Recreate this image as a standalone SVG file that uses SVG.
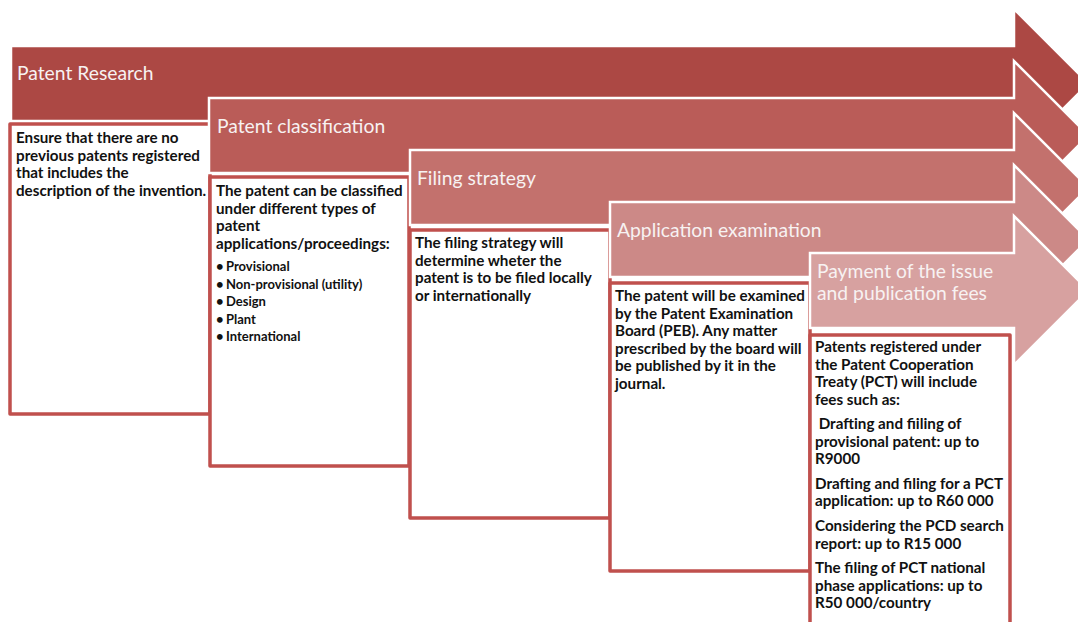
<svg xmlns="http://www.w3.org/2000/svg" width="1078" height="622" viewBox="0 0 1078 622">
  <style>
    .arrow { stroke: #ffffff; stroke-width: 2.5; stroke-linejoin: miter; }
    .box { fill: #ffffff; stroke: #C0504D; stroke-width: 3.5; stroke-linejoin: round; }
    .head { font-family: Lato, "Open Sans", sans-serif; font-size: 19.3px; fill: #F7F2F2; }
    .body { font-family: Lato, "Open Sans", sans-serif; font-size: 15.2px; font-weight: bold; fill: #111111; }
    .bul { font-family: Lato, "Open Sans", sans-serif; font-size: 13px; font-weight: bold; fill: #111111; }
  </style>
  <rect width="1078" height="622" fill="#ffffff"/>

  <!-- Step 1: research -->
  <g id="step-research">
    <path class="arrow" fill="#AC4844" d="M11 46 H1014 V9 L1088.5 83.5 L1014 158 V121 H11 Z"/>
    <text class="head" x="17" y="80">Patent Research</text>
    <rect class="box" x="10" y="124" width="200" height="290"/>
    <text class="body" x="16" y="143">Ensure that there are no</text>
    <text class="body" x="16" y="160.5">previous patents registered</text>
    <text class="body" x="16" y="178">that includes the</text>
    <text class="body" x="16" y="195.5">description of the invention.</text>
  </g>

  <!-- Step 2: classification -->
  <g id="step-classification">
    <path class="arrow" fill="#BA5C58" d="M209 98 H1014 V61 L1088.5 135.5 L1014 210 V173 H209 Z"/>
    <text class="head" x="217" y="133">Patent classification</text>
    <rect class="box" x="210" y="177" width="199" height="289"/>
    <text class="body" x="216" y="196">The patent can  be classified</text>
    <text class="body" x="216" y="213.5">under different types of</text>
    <text class="body" x="216" y="231">patent</text>
    <text class="body" x="216" y="248.5">applications/proceedings:</text>
    <text class="bul" x="216" y="271">•</text><text class="bul" x="226" y="271">Provisional</text>
    <text class="bul" x="216" y="288.5">•</text><text class="bul" x="226" y="288.5">Non-provisional (utility)</text>
    <text class="bul" x="216" y="306">•</text><text class="bul" x="226" y="306">Design</text>
    <text class="bul" x="216" y="323.5">•</text><text class="bul" x="226" y="323.5">Plant</text>
    <text class="bul" x="216" y="341">•</text><text class="bul" x="226" y="341">International</text>
  </g>

  <!-- Step 3: filing strategy -->
  <g id="step-filing">
    <path class="arrow" fill="#C3716D" d="M410 150 H1014 V113 L1088.5 187.5 L1014 262 V225 H410 Z"/>
    <text class="head" x="417" y="185">Filing strategy</text>
    <rect class="box" x="410" y="230" width="200" height="288"/>
    <text class="body" x="415" y="248">The filing strategy will</text>
    <text class="body" x="415" y="265.5">determine wheter the</text>
    <text class="body" x="415" y="283">patent is to be filed locally</text>
    <text class="body" x="415" y="300.5">or internationally</text>
  </g>

  <!-- Step 4: examination -->
  <g id="step-examination">
    <path class="arrow" fill="#CC8987" d="M610 202 H1014 V165 L1088.5 239.5 L1014 314 V277 H610 Z"/>
    <text class="head" x="617" y="237">Application examination</text>
    <rect class="box" x="610" y="283" width="200" height="288"/>
    <text class="body" x="615" y="301">The patent will be examined</text>
    <text class="body" x="615" y="318.5">by the Patent Examination</text>
    <text class="body" x="615" y="336">Board  (PEB). Any matter</text>
    <text class="body" x="615" y="353.5">prescribed by the board will</text>
    <text class="body" x="615" y="371">be published by it in the</text>
    <text class="body" x="615" y="388.5">journal.</text>
  </g>

  <!-- Step 5: fees -->
  <g id="step-fees">
    <path class="arrow" fill="#D7A1A0" d="M810 253 H1014 V216 L1088.5 290.5 L1014 365 V328 H810 Z"/>
    <text class="head" x="817" y="278">Payment of the issue</text>
    <text class="head" x="817" y="299.5">and publication fees</text>
    <rect class="box" x="810" y="335" width="200" height="300"/>
    <text class="body" x="815" y="352">Patents registered under</text>
    <text class="body" x="815" y="369.5">the Patent Cooperation</text>
    <text class="body" x="815" y="387">Treaty (PCT) will include</text>
    <text class="body" x="815" y="404.5">fees such as:</text>
    <text class="body" x="815" y="429" xml:space="preserve"> Drafting and fiiling of</text>
    <text class="body" x="815" y="446.5">provisional patent: up to</text>
    <text class="body" x="815" y="464">R9000</text>
    <text class="body" x="815" y="488.5">Drafting and filing for a  PCT</text>
    <text class="body" x="815" y="506">application: up to R60 000</text>
    <text class="body" x="815" y="531">Considering the PCD search</text>
    <text class="body" x="815" y="548.5">report: up to R15 000</text>
    <text class="body" x="815" y="573">The filing of PCT national</text>
    <text class="body" x="815" y="590.5">phase applications: up to</text>
    <text class="body" x="815" y="608">R50 000/country</text>
  </g>
</svg>
